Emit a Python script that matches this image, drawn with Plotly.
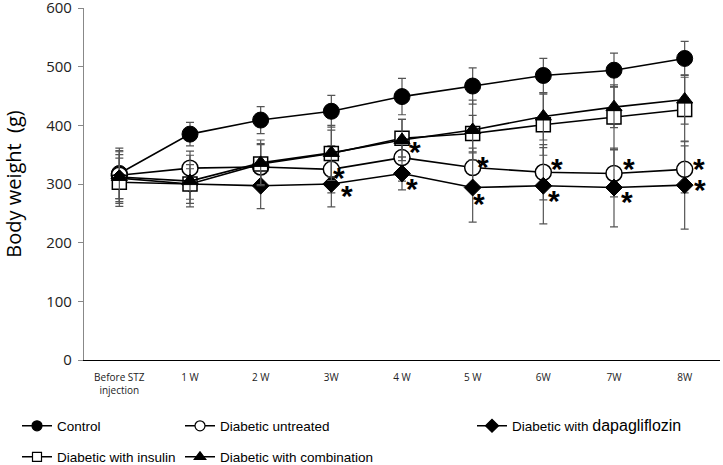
import plotly.graph_objects as go

# ---------------- data ----------------
weeks = ["Before STZ<br>injection", "1 W", "2 W", "3W", "4 W", "5 W", "6W", "7W", "8W"]

control_mean = [318, 385, 409, 424, 449, 467, 485, 494, 514]
control_sd = [43, 20, 23, 27, 31, 31, 29, 29, 29]

untreated_mean = [315, 327, 329, 325, 345, 328, 320, 318, 325]
untreated_sd = [40, 29, 38, 40, 40, 33, 47, 40, 40]

dapa_mean = [310, 300, 297, 300, 318, 294, 297, 294, 298]
dapa_sd = [40, 26, 39, 39, 28, 59, 65, 67, 75]

insulin_mean = [303, 300, 334, 352, 378, 386, 401, 414, 427]
insulin_sd = [41, 33, 35, 40, 32, 31, 52, 55, 55]

combo_mean = [312, 305, 336, 353, 375, 392, 415, 431, 444]
combo_sd = [45, 44, 39, 47, 35, 51, 40, 35, 42]

# significance markers (week indices) for untreated and dapagliflozin groups
star_weeks = [3, 4, 5, 6, 7, 8]

# ---------------- styling ----------------
# pixel offsets (right, down) of asterisks relative to their marker
untreated_star_off = [(8, 6), (13, -8), (10, -3), (14, -6), (15, -7), (14, -3)]
dapa_star_off = [(16, 9), (10, 13), (6, 14), (11, 13), (13, 12), (15, 2)]
STAR_GLYPH_ADJ = 2

LEG_FONT = "Liberation Sans, Arial, sans-serif"
TICK_FONT = "Open Sans, sans-serif"

series = [
    ("Control", control_mean, control_sd, "circle", "black", 16, 10, "legend"),
    ("Diabetic untreated", untreated_mean, untreated_sd, "circle", "white", 16, 10, "legend2"),
    ("Diabetic with <span style='font-size:16px'>dapagliflozin</span>",
     dapa_mean, dapa_sd, "diamond", "black", 13, 10, "legend3"),
    ("Diabetic with insulin", insulin_mean, insulin_sd, "square", "white", 14, 9, "legend4"),
    ("Diabetic with combination", combo_mean, combo_sd, "triangle-up", "black", 14, 10, "legend5"),
]

fig = go.Figure()
for name, mean, sd, sym, fill, size, lsize, leg in series:
    lw = 1.5 if fill == "white" else 1
    fig.add_trace(go.Scatter(
        x=weeks, y=mean, name=name, mode="lines+markers",
        line=dict(color="black", width=1.6),
        marker=dict(symbol=sym, size=size, color=fill, line=dict(color="black", width=lw)),
        error_y=dict(type="data", array=sd, visible=True, color="#555555", thickness=1.2, width=4),
        showlegend=False,
    ))
    # legend-only entry with the smaller legend symbol
    fig.add_trace(go.Scatter(
        x=[None], y=[None], name=name, mode="lines+markers",
        line=dict(color="black", width=1.5),
        marker=dict(symbol=sym, size=lsize, color=fill, line=dict(color="black", width=1.2)),
        showlegend=True, legend=leg,
    ))

annotations = []
for idx, (dx, dy) in zip(star_weeks, untreated_star_off):
    annotations.append(dict(x=weeks[idx], y=untreated_mean[idx], text="<b>*</b>", showarrow=False,
                            xshift=dx, yshift=-(dy + STAR_GLYPH_ADJ),
                            font=dict(family="Liberation Sans, Arial", size=30, color="black")))
for idx, (dx, dy) in zip(star_weeks, dapa_star_off):
    annotations.append(dict(x=weeks[idx], y=dapa_mean[idx], text="<b>*</b>", showarrow=False,
                            xshift=dx, yshift=-(dy + STAR_GLYPH_ADJ),
                            font=dict(family="Liberation Sans, Arial", size=30, color="black")))

L, R, T, B = 84, 3, 8, 105
W, H = 723, 465
pw, ph = W - L - R, H - T - B


def px_x(p):
    return (p - L) / pw


def px_y(p):
    return (H - B - p) / ph


def leg(xpx, ypx):
    return dict(x=px_x(xpx), y=px_y(ypx), xanchor="left", yanchor="middle",
                bgcolor="rgba(0,0,0,0)", font=dict(family=LEG_FONT, size=13.5, color="black"))


fig.update_layout(
    width=W, height=H,
    margin=dict(l=L, r=R, t=T, b=B, autoexpand=False),
    plot_bgcolor="white", paper_bgcolor="white",
    showlegend=True,
    annotations=annotations,
    legend=leg(17, 426),
    legend2=leg(180, 426),
    legend3=leg(472, 426),
    legend4=leg(17, 457),
    legend5=leg(180, 457),
    xaxis=dict(
        type="category", range=[-0.5, 8.5], automargin=False,
        showline=True, linecolor="black", linewidth=1.3,
        ticks="", showgrid=False, zeroline=False, ticklabelstandoff=8,
        tickfont=dict(family=TICK_FONT, size=10, color="#222"),
    ),
    yaxis=dict(
        range=[0, 600], dtick=100, automargin=False, ticklabeloverflow="allow",
        showline=True, linecolor="#888", linewidth=1.2,
        ticks="outside", ticklen=5, tickcolor="#888", ticklabelstandoff=3,
        showgrid=False, zeroline=False,
        tickfont=dict(family=TICK_FONT, size=15, color="#222"),
        title=dict(text="Body weight\u00a0 (g)", standoff=24,
                   font=dict(family=TICK_FONT, size=20, color="black")),
    ),
)

fig.write_html("out.html", post_script="document.body.style.margin='0';",
               config={"displayModeBar": False})
